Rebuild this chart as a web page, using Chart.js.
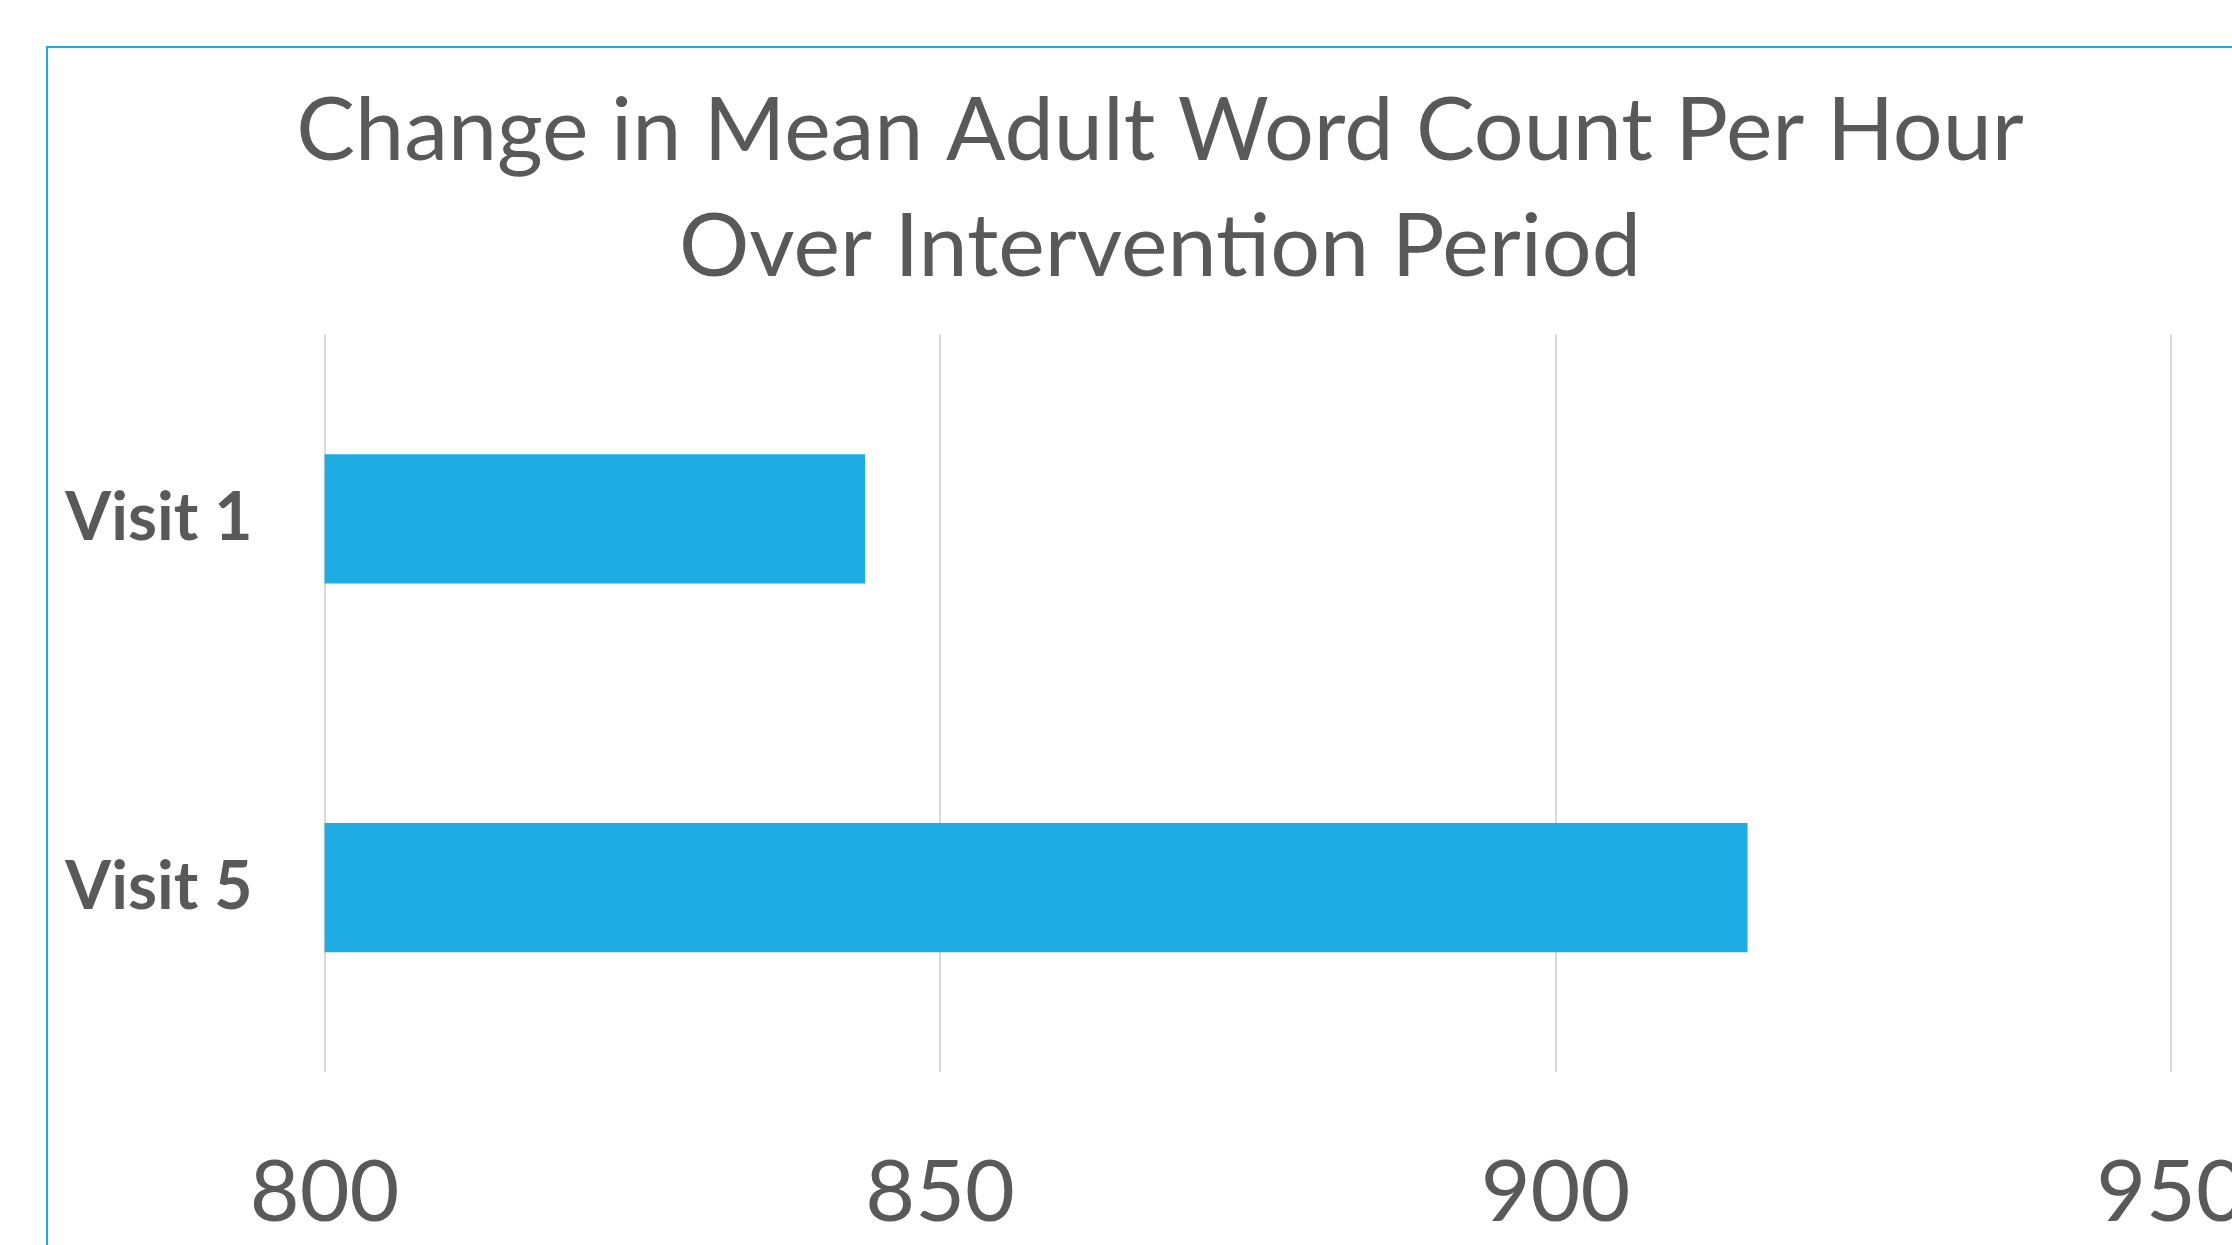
<!DOCTYPE html>
<html>
<head>
<meta charset="utf-8">
<script src="https://cdn.jsdelivr.net/npm/chart.js@4"></script>
<style>
  html, body { margin: 0; padding: 0; background: #fff; overflow: hidden; width: 2232px; height: 1245px; }
  .frame {
    position: absolute; left: 46px; top: 46px;
    width: 2224px; height: 1250px;
    border: 2px solid #1EACE2;
  }
  canvas { display: block; }
</style>
</head>
<body>
<div class="frame"><canvas id="wordChart" width="2224" height="1250"></canvas></div>
<script>
// 資料
const titleLines = ['Change in Mean Adult Word Count Per Hour', 'Over Intervention Period'];
const visits = ['Visit 1', 'Visit 5'];
const meanWords = [843.9, 915.6];
const axisMin = 800;
const axisMax = 950;
const axisStep = 50;

const textColor = '#595959';
const barColor = '#1EACE2';

const ctx = document.getElementById('wordChart').getContext('2d');

new Chart(ctx, {
    type: 'bar',
    data: {
        labels: visits,
        datasets: [{
            data: meanWords,
            backgroundColor: barColor,
            borderWidth: 0,
            barPercentage: 0.351,
            categoryPercentage: 1
        }]
    },
    options: {
        indexAxis: 'y',
        responsive: false,
        maintainAspectRatio: false,
        devicePixelRatio: 1,
        animation: false,
        layout: { padding: { left: 0, right: 0, top: 0, bottom: 36 } },
        scales: {
            x: {
                min: axisMin,
                max: axisMax,
                // 透明刻度線只用來把數字往下推
                grid: { color: '#D9D9D9', lineWidth: 2, drawTicks: true, tickLength: 67, tickColor: 'rgba(0,0,0,0)' },
                border: { display: false },
                ticks: {
                    stepSize: axisStep,
                    color: textColor,
                    padding: 3,
                    font: { family: 'Lato', size: 86 }
                },
                afterFit: (scale) => { scale.height = 190; }
            },
            y: {
                grid: { display: false, drawTicks: false },
                border: { display: false },
                ticks: {
                    color: textColor,
                    padding: 72,
                    font: { family: 'Lato', size: 66, weight: 'bold' }
                },
                afterFit: (scale) => { scale.width = 276.6; }
            },
            // 右側留白用的空軸，讓標題仍置中於整個圖框
            yRight: {
                type: 'category',
                position: 'right',
                grid: { display: false, drawTicks: false },
                border: { display: false },
                ticks: { display: false },
                afterFit: (scale) => { scale.width = 101; }
            }
        },
        plugins: {
            legend: { display: false },
            tooltip: { enabled: false },
            title: {
                display: true,
                text: titleLines,
                color: textColor,
                font: { family: 'Lato', size: 88, weight: 'normal', lineHeight: 1.318 },
                padding: { top: 26, bottom: 28.5 }
            }
        }
    }
});
</script>
</body>
</html>
